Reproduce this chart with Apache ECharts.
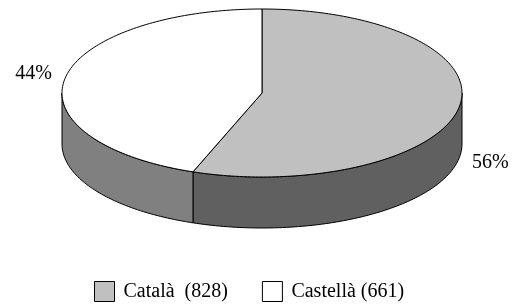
<!DOCTYPE html>
<html>
<head>
<meta charset="utf-8">
<script src="https://cdn.jsdelivr.net/npm/echarts@6/dist/echarts.min.js"></script>
<style>
  html, body { margin: 0; padding: 0; background: #fff; }
  #chart { width: 514px; height: 305px; }
</style>
</head>
<body>
<div id="chart"></div>
<script>
// dades
var categories = ['Català', 'Castellà'];
var values = [828, 661];
var topColors = ['#c0c0c0', '#ffffff'];
var sideColors = ['#606060', '#808080'];

// pastís 3D (el·lipse + gruix)
var cx = 262, cy = 93, rx = 200, ry = 84, depth = 51;
var FONT = 'Liberation Serif, Times New Roman, serif';

var total = values.reduce(function (a, b) { return a + b; }, 0);

function pt(t, dy) {
  return [cx + rx * Math.sin(t), cy - ry * Math.cos(t) + (dy || 0)];
}
function arc(a, b, dy) {
  var pts = [], n = Math.max(2, Math.ceil((b - a) / 0.02));
  for (var k = 0; k <= n; k++) pts.push(pt(a + (b - a) * k / n, dy));
  return pts;
}

function renderSlice(params, api) {
  var i = params.seriesIndex;
  var before = 0;
  for (var j = 0; j < i; j++) before += values[j];
  var a = before / total * Math.PI * 2;
  var b = (before + values[i]) / total * Math.PI * 2;
  var children = [];

  // costat visible (meitat frontal)
  var sa = Math.max(a, Math.PI / 2), sb = Math.min(b, Math.PI * 1.5);
  if (sb > sa) {
    var side = arc(sa, sb, 0).concat(arc(sa, sb, depth).reverse());
    children.push({
      type: 'polygon', z2: 1,
      shape: { points: side },
      style: { fill: sideColors[i], stroke: '#000', lineWidth: 1 }
    });
  }
  // cara superior
  children.push({
    type: 'polygon', z2: 2,
    shape: { points: [[cx, cy]].concat(arc(a, b, 0)) },
    style: { fill: topColors[i], stroke: '#000', lineWidth: 1 }
  });
  // etiqueta
  var m = (a + b) / 2;
  var lx = cx + (rx + 32) * Math.sin(m);
  var ly = cy - (ry + 24) * Math.cos(m) + (Math.cos(m) < 0 ? depth : 0);
  children.push({
    type: 'text', z2: 3,
    x: lx, y: ly,
    style: {
      text: Math.round(values[i] / total * 100) + '%',
      font: '20px ' + FONT, fill: '#000',
      align: 'center', verticalAlign: 'middle',
      textAlign: 'center', textVerticalAlign: 'middle'
    }
  });
  return { type: 'group', children: children };
}

var series = categories.map(function (name, i) {
  return {
    type: 'custom',
    name: name,
    coordinateSystem: 'none',
    silent: true,
    itemStyle: { color: topColors[i], borderColor: '#000', borderWidth: 1 },
    data: [[values[i]]],
    renderItem: renderSlice
  };
});

var chart = echarts.init(document.getElementById('chart'), null, { renderer: 'canvas' });
chart.setOption({
  animation: false,
  legend: {
    data: categories,
    left: 94,
    top: 281,
    padding: 0,
    itemWidth: 20,
    itemHeight: 20,
    itemGap: 34,
    icon: 'rect',
    itemStyle: { borderColor: '#000', borderWidth: 1 },
    textStyle: { fontFamily: FONT, fontSize: 20, color: '#000', padding: [2, 0, 0, 4] },
    formatter: function (name) {
      var v = values[categories.indexOf(name)];
      return name === 'Català' ? name + '  (' + v + ')' : name + ' (' + v + ')';
    }
  },
  series: series
});
</script>
</body>
</html>
